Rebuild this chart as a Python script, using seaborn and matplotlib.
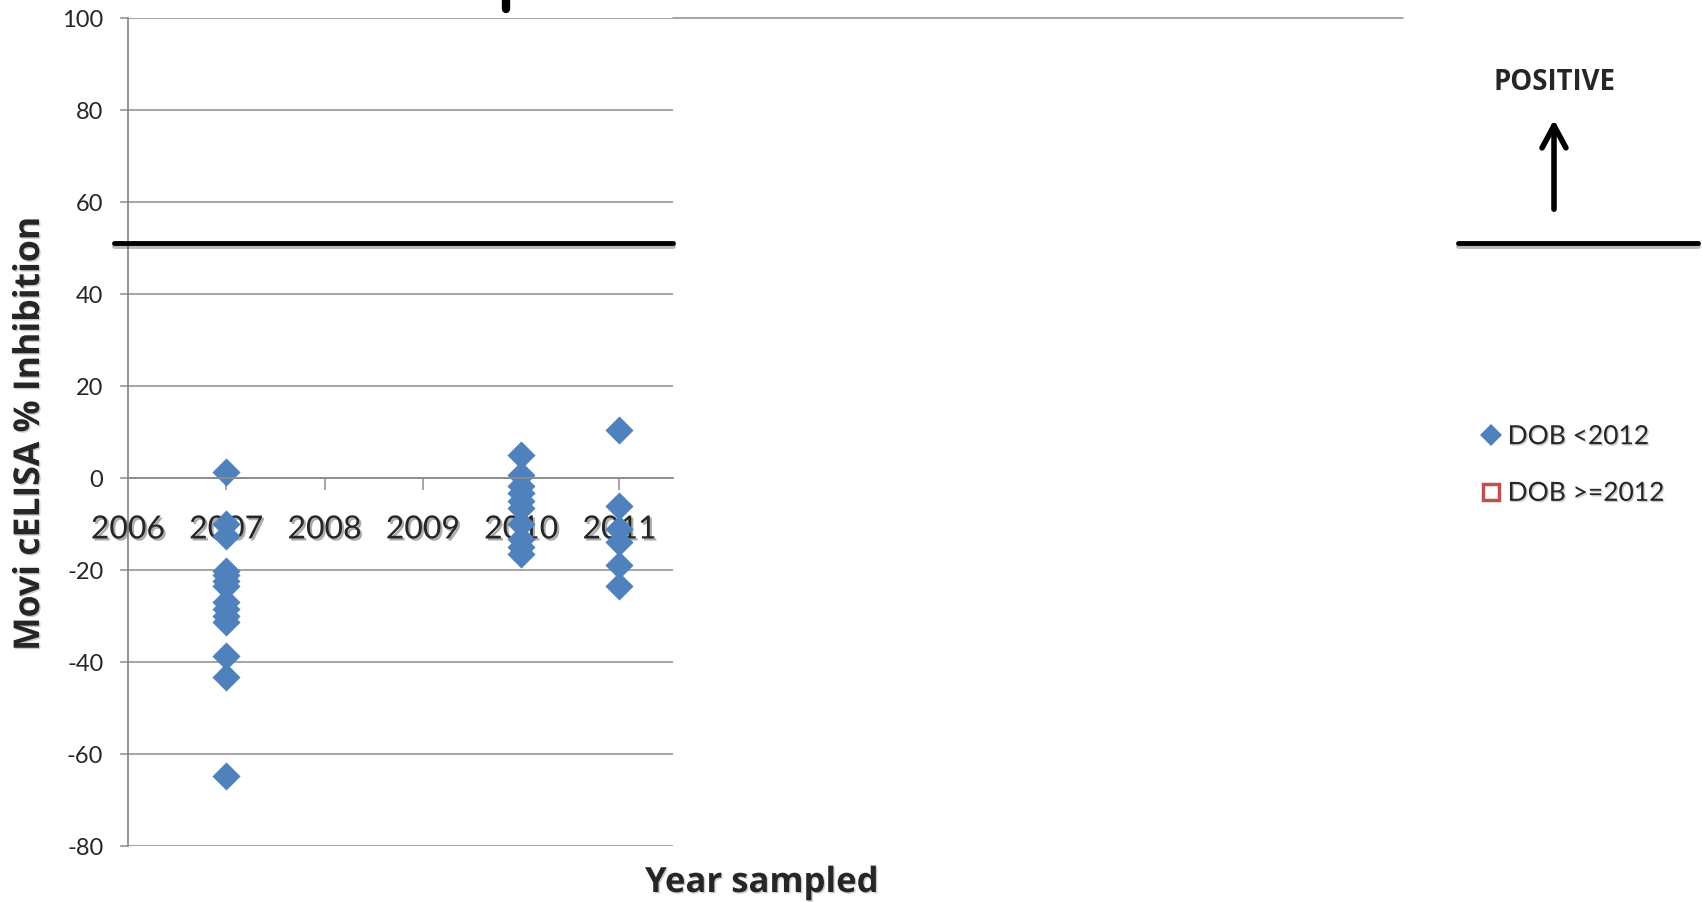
import matplotlib
matplotlib.use("Agg")
import matplotlib.pyplot as plt
import matplotlib.patheffects as pe
from matplotlib.lines import Line2D
import pandas as pd
import seaborn as sns

# values
inhibition_2007 = [1.1, -10.1, -12.7, -20.3, -21.3, -22.4, -23.5, -27.1, -28.6, -30.0, -31.5, -38.7, -43.4, -64.8]
inhibition_2010 = [4.8, 0.5, -1.8, -3.4, -5.0, -6.6, -10.0, -13.4, -15.2, -16.6]
inhibition_2011 = [10.4, -6.2, -11.2, -14.1, -19.0, -23.5]
x_ticks = [2006, 2007, 2008, 2009, 2010, 2011]
y_ticks = [-80, -60, -40, -20, 0, 20, 40, 60, 80, 100]
cutoff = 51
series_labels = ["DOB <2012", "DOB >=2012"]

blue = "#4F81BD"
red = "#C0504D"
grid_c = "#8C8C8C"

df = pd.DataFrame({
    "year": [2007] * len(inhibition_2007) + [2010] * len(inhibition_2010) + [2011] * len(inhibition_2011),
    "inhibition": inhibition_2007 + inhibition_2010 + inhibition_2011,
})

sns.set_theme(style="white")
plt.rcParams["font.family"] = ["Lato", "DejaVu Sans"]
plt.rcParams["axes.unicode_minus"] = False
bold_font = ["Open Sans", "DejaVu Sans"]

W, H = 1702, 903
fig = plt.figure(figsize=(W / 100, H / 100), dpi=100)
ax = fig.add_axes([128 / W, 1 - 846.5 / H, 545 / W, 828 / H])

# gridlines drawn under the points, tick labels stay above them
for v in y_ticks:
    ax.axhline(v, color=grid_c, lw=1.1, zorder=0.5)
# top gridline runs on past the plot area in the reference
ax.axhline(100, xmin=1, xmax=(1403 - 128) / 545, color=grid_c, lw=1.1, clip_on=False)

sns.scatterplot(data=df, x="year", y="inhibition", marker="D", color=blue,
                s=205, linewidth=0, ax=ax, zorder=2, legend=False)

ax.set_xlim(2006, 2006 + 545 / 98.3)
ax.set_ylim(-80, 100)
ax.set_xticks(x_ticks[1:])
ax.set_xticklabels([str(t) for t in x_ticks[1:]])
ax.set_yticks(y_ticks)
ax.set_xlabel("")
ax.set_ylabel("")

# excel style axis crossing at zero
ax.spines["bottom"].set_position(("data", 0))
for side in ["top", "right"]:
    ax.spines[side].set_visible(False)
for side in ["left", "bottom"]:
    ax.spines[side].set_color(grid_c)
    ax.spines[side].set_linewidth(1.3)

ax.tick_params(axis="y", length=5.8, width=1.1, color=grid_c, pad=12, labelsize=17, left=True)
ax.tick_params(axis="x", length=8.6, width=1.1, color=grid_c, pad=18, labelsize=23,
               direction="out", bottom=True)
shadow = [pe.SimplePatchShadow(offset=(1.5, -1.5), shadow_rgbFace="0.45", alpha=0.6), pe.Normal()]
for lbl in ax.get_xticklabels():
    lbl.set_path_effects(shadow)

# 2006 label sits on the left spine
ax.annotate(str(x_ticks[0]), xy=(2006, 0), xytext=(0, -8.6 - 18), textcoords="offset points",
            ha="center", va="top", fontsize=23, path_effects=shadow)

# cut-off line and the positive marker on the right
line_fx = [pe.SimpleLineShadow(offset=(0, -2), alpha=0.3), pe.Normal()]
ax.axhline(cutoff, xmin=-14 / 545, xmax=1, color="black", lw=3.5, clip_on=False, zorder=3,
           path_effects=line_fx)
ax.axhline(cutoff, xmin=(1458 - 128) / 545, xmax=(1698 - 128) / 545, color="black", lw=3.5,
           clip_on=False, zorder=3, path_effects=line_fx)

fig.text(1555 / W, 1 - 83 / H, "POSITIVE", ha="center", va="center", fontsize=19.8,
         fontweight="bold", family=bold_font)
ax.annotate("", xy=(1554 / W, 1 - 118 / H), xytext=(1554 / W, 1 - 213 / H),
            xycoords="figure fraction", textcoords="figure fraction",
            arrowprops=dict(arrowstyle="->,head_length=0.8,head_width=0.43", lw=4,
                            color="black", mutation_scale=20))
fig.add_artist(Line2D([506 / W, 506 / W], [1.02, 1 - 10 / H], transform=fig.transFigure,
                      color="black", lw=6, solid_capstyle="round"))

label_fx = [pe.SimplePatchShadow(offset=(1, -1), shadow_rgbFace="0.5", alpha=0.4), pe.Normal()]
fig.text(30 / W, 1 - 435 / H, "Movi cELISA % Inhibition", rotation=90, ha="center", va="center",
         fontsize=25.6, fontweight="bold", family=bold_font, path_effects=label_fx)
fig.text(762 / W, 1 - 884 / H, "Year sampled", ha="center", va="center",
         fontsize=25, fontweight="bold", family=bold_font, path_effects=label_fx)

handles = [
    Line2D([], [], marker="D", ls="none", color=blue, markersize=11, markeredgewidth=0),
    Line2D([], [], marker="s", ls="none", markerfacecolor="white", markeredgecolor=red,
           markersize=12, markeredgewidth=2.5),
]
leg = fig.legend(handles, series_labels, loc="center left", bbox_to_anchor=(1478 / W, 1 - 466 / H),
                 frameon=False, fontsize=19, handlelength=1, handletextpad=0.12, labelspacing=1.2,
                 borderpad=0, borderaxespad=0)
for t in leg.get_texts():
    t.set_path_effects(label_fx)

fig.savefig("out.png", dpi=100)
